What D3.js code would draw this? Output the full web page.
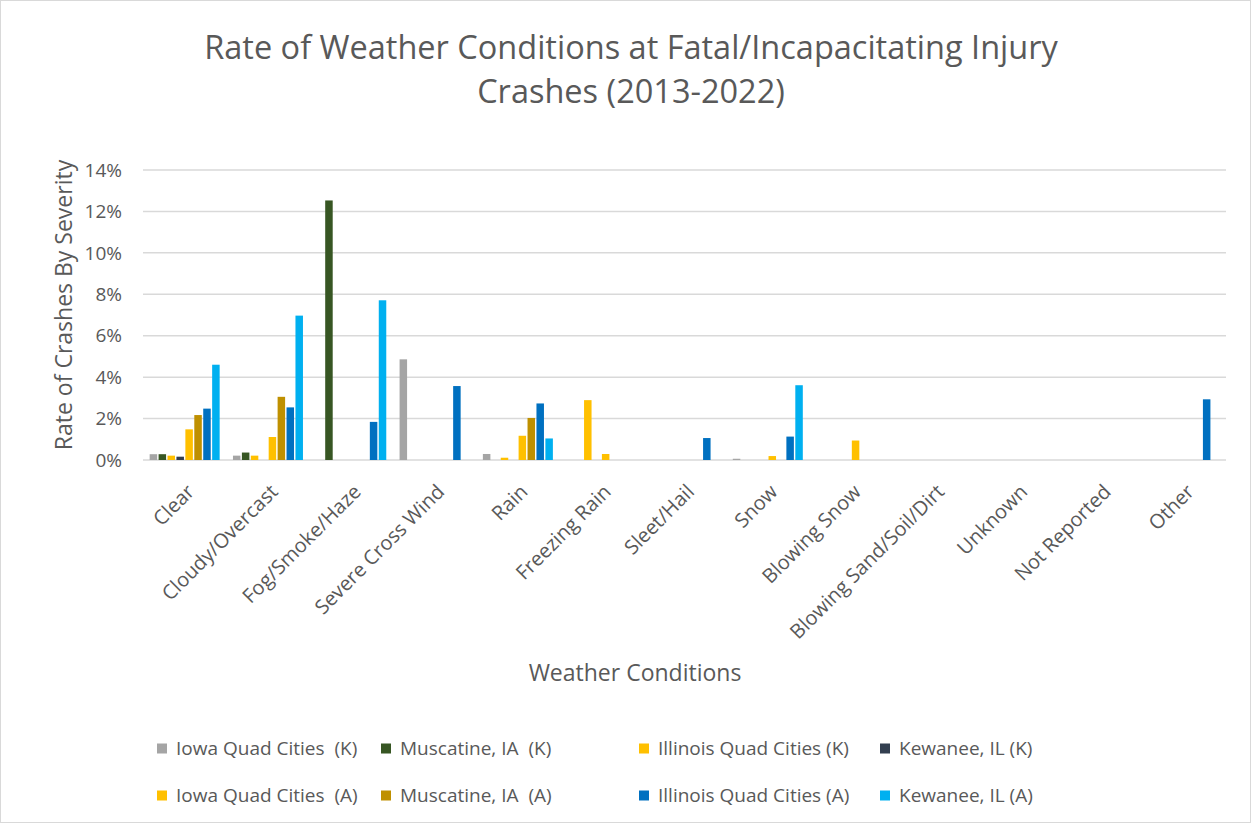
<!DOCTYPE html>
<html>
<head>
<meta charset="utf-8">
<script src="https://cdn.jsdelivr.net/npm/d3@7"></script>
<style>
  body { margin: 0; background: #fff; }
  text { font-family: "Open Sans", sans-serif; fill: #595959; white-space: pre; }
</style>
</head>
<body>
<script>
// weather categories along the x axis
var categories = ["Clear", "Cloudy/Overcast", "Fog/Smoke/Haze", "Severe Cross Wind", "Rain",
    "Freezing Rain", "Sleet/Hail", "Snow", "Blowing Snow", "Blowing Sand/Soil/Dirt",
    "Unknown", "Not Reported", "Other"];

var seriesNames = ["Iowa Quad Cities  (K)", "Muscatine, IA  (K)", "Illinois Quad Cities (K)", "Kewanee, IL (K)",
    "Iowa Quad Cities  (A)", "Muscatine, IA  (A)", "Illinois Quad Cities (A)", "Kewanee, IL (A)"];

var seriesColors = ["#A5A5A5", "#375623", "#FFC000", "#333F50", "#FFC000", "#BF9000", "#0070C0", "#00B0F0"];

// values in percent, one array per series
var iowaK      = [0.28, 0.21, 0,     4.86, 0.29, 0,    0,    0.06, 0,    0, 0, 0, 0];
var muscatineK = [0.28, 0.36, 12.53, 0,    0,    0,    0,    0,    0,    0, 0, 0, 0];
var illinoisK  = [0.21, 0.21, 0,     0,    0.11, 2.89, 0,    0,    0,    0, 0, 0, 0];
var kewaneeK   = [0.16, 0,    0,     0,    0,    0,    0,    0,    0,    0, 0, 0, 0];
var iowaA      = [1.48, 1.11, 0,     0,    1.17, 0.29, 0,    0.19, 0.94, 0, 0, 0, 0];
var muscatineA = [2.17, 3.05, 0,     0,    2.03, 0,    0,    0,    0,    0, 0, 0, 0];
var illinoisA  = [2.48, 2.54, 1.84,  3.57, 2.73, 0,    1.06, 1.13, 0,    0, 0, 0, 2.93];
var kewaneeA   = [4.6,  6.97, 7.71,  0,    1.04, 0,    0,    3.61, 0,    0, 0, 0, 0];

var yTicks = [0, 2, 4, 6, 8, 10, 12, 14];

var seriesValues = [iowaK, muscatineK, illinoisK, kewaneeK, iowaA, muscatineA, illinoisA, kewaneeA];

var width = 1252, height = 825;
var plotLeft = 143, plotRight = 1226, plotTop = 170, plotBottom = 460;

var svg = d3.select("body").append("svg")
    .attr("width", width)
    .attr("height", height);

// chart area border
svg.append("rect")
    .attr("x", 0.5).attr("y", 0.5)
    .attr("width", 1250).attr("height", 822)
    .attr("fill", "#fff")
    .attr("stroke", "#D9D9D9");

var x = d3.scaleBand().domain(categories).range([plotLeft, plotRight]);
var xInner = d3.scaleBand().domain(d3.range(8))
    .range([(x.bandwidth() - 70) / 2, (x.bandwidth() + 70) / 2])
    .paddingInner(0.16);
var y = d3.scaleLinear().domain([0, 14]).range([plotBottom, plotTop]);

// gridlines
svg.append("g")
    .selectAll("line")
    .data(yTicks)
    .enter().append("line")
    .attr("x1", plotLeft).attr("x2", plotRight)
    .attr("y1", function(d) { return y(d); })
    .attr("y2", function(d) { return y(d); })
    .attr("stroke", "#D9D9D9")
    .attr("stroke-width", 1.5);

// y tick labels
svg.append("g")
    .selectAll("text")
    .data(yTicks)
    .enter().append("text")
    .attr("x", 122)
    .attr("y", function(d) { return y(d); })
    .attr("dy", "0.35em")
    .attr("text-anchor", "end")
    .style("font-size", "19px")
    .text(function(d) { return d + "%"; });

// bars
var groups = svg.append("g")
    .selectAll("g")
    .data(seriesValues)
    .enter().append("g")
    .attr("fill", function(d, i) { return seriesColors[i]; });

groups.each(function(vals, si) {
    d3.select(this).selectAll("rect")
        .data(vals.map(function(v, ci) { return {v: v, c: categories[ci]}; }).filter(function(d) { return d.v > 0; }))
        .enter().append("rect")
        .attr("x", function(d) { return x(d.c) + xInner(si); })
        .attr("width", xInner.bandwidth())
        .attr("y", function(d) { return y(d.v); })
        .attr("height", function(d) { return plotBottom - y(d.v); });
});

// x category labels, rotated
svg.append("g")
    .selectAll("text")
    .data(categories)
    .enter().append("text")
    .attr("text-anchor", "end")
    .style("font-size", "20px")
    .attr("transform", function(d) {
        return "translate(" + (x(d) + x.bandwidth() / 2 + 11) + "," + 493 + ") rotate(-45)";
    })
    .text(function(d) { return d; });

// title
svg.append("text")
    .attr("x", 631).attr("y", 59)
    .attr("text-anchor", "middle")
    .style("font-size", "32.5px")
    .text("Rate of Weather Conditions at Fatal/Incapacitating Injury");
svg.append("text")
    .attr("x", 631).attr("y", 103)
    .attr("text-anchor", "middle")
    .style("font-size", "32.5px")
    .text("Crashes (2013-2022)");

// axis titles
svg.append("text")
    .attr("transform", "translate(72,305) rotate(-90)")
    .attr("text-anchor", "middle")
    .style("font-size", "23px")
    .text("Rate of Crashes By Severity");

svg.append("text")
    .attr("x", 635).attr("y", 681)
    .attr("text-anchor", "middle")
    .style("font-size", "23px")
    .text("Weather Conditions");

// legend, two rows of four
var legendX = [157, 381, 639, 880];
var legendY = [748, 795];
var legend = svg.append("g")
    .selectAll("g")
    .data(seriesNames)
    .enter().append("g")
    .attr("transform", function(d, i) {
        return "translate(" + legendX[i % 4] + "," + legendY[Math.floor(i / 4)] + ")";
    });
legend.append("rect")
    .attr("x", 0).attr("y", -4.5)
    .attr("width", 10).attr("height", 10)
    .attr("fill", function(d, i) { return seriesColors[i]; });
legend.append("text")
    .attr("x", 19).attr("y", 0)
    .attr("dy", "0.35em")
    .style("font-size", "19px")
    .text(function(d) { return d; });
</script>
</body>
</html>
